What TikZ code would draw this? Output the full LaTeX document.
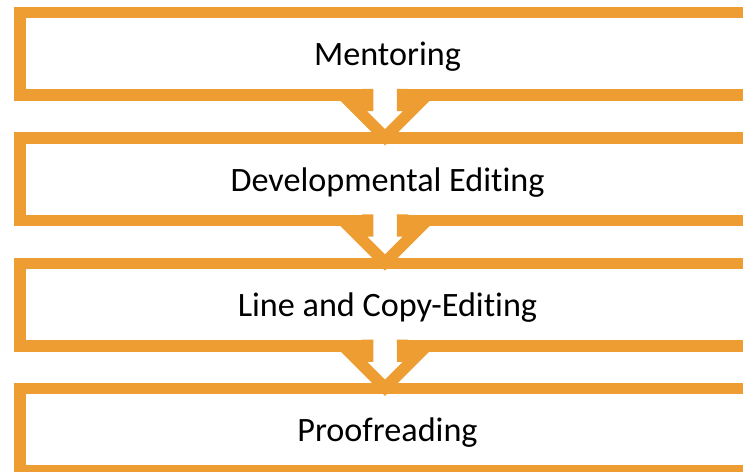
\documentclass[tikz,border=0pt]{standalone}
\usepackage{fontspec}
\setmainfont{Carlito}[Ligatures={NoCommon}]
\definecolor{boxorange}{RGB}{237,157,50}
\begin{document}
\begin{tikzpicture}[x=1bp,y=-1bp,
  boxline/.style={draw=boxorange,line width=11.5bp,fill=white,line join=miter},
  arrline/.style={draw=boxorange,line width=11.5bp,line join=miter,line cap=butt},
  lbl/.style={font=\fontsize{34.3}{40}\selectfont,text=black,inner sep=0pt,anchor=base}]
\useasboundingbox (0,0) rectangle (743,472);
\clip (0,0) rectangle (743,472);
% boxes
\foreach \i/\name/\txt in {0/b1/Mentoring,1/b2/Developmental Editing,2/b3/Line and Copy-Editing,3/b4/Proofreading}{
  \pgfmathsetmacro{\T}{7+125.3*\i}
  \draw[boxline] (19.75,\T+5.75) rectangle (754.25,\T+88.25);
  \node[lbl] (\name) at (387.5,\T+59) {\txt};
}
% arrows
\foreach \i in {0,1,2}{
  \pgfmathsetmacro{\Y}{7+125.3*\i+82}
  \coordinate (s1) at (367.5,\Y);
  \coordinate (s2) at (367.5,\Y+16.5);
  \coordinate (w1) at (353.3,\Y+16.5);
  \coordinate (tp) at (385,\Y+48.2);
  \coordinate (w2) at (416.7,\Y+16.5);
  \coordinate (s3) at (402.5,\Y+16.5);
  \coordinate (s4) at (402.5,\Y);
  \fill[white] (s1) -- (s2) -- (w1) -- (tp) -- (w2) -- (s3) -- (s4) -- cycle;
  \draw[arrline] (s1) -- (s2) -- (w1) -- (tp) -- (w2) -- (s3) -- (s4);
}
\end{tikzpicture}
\end{document}
